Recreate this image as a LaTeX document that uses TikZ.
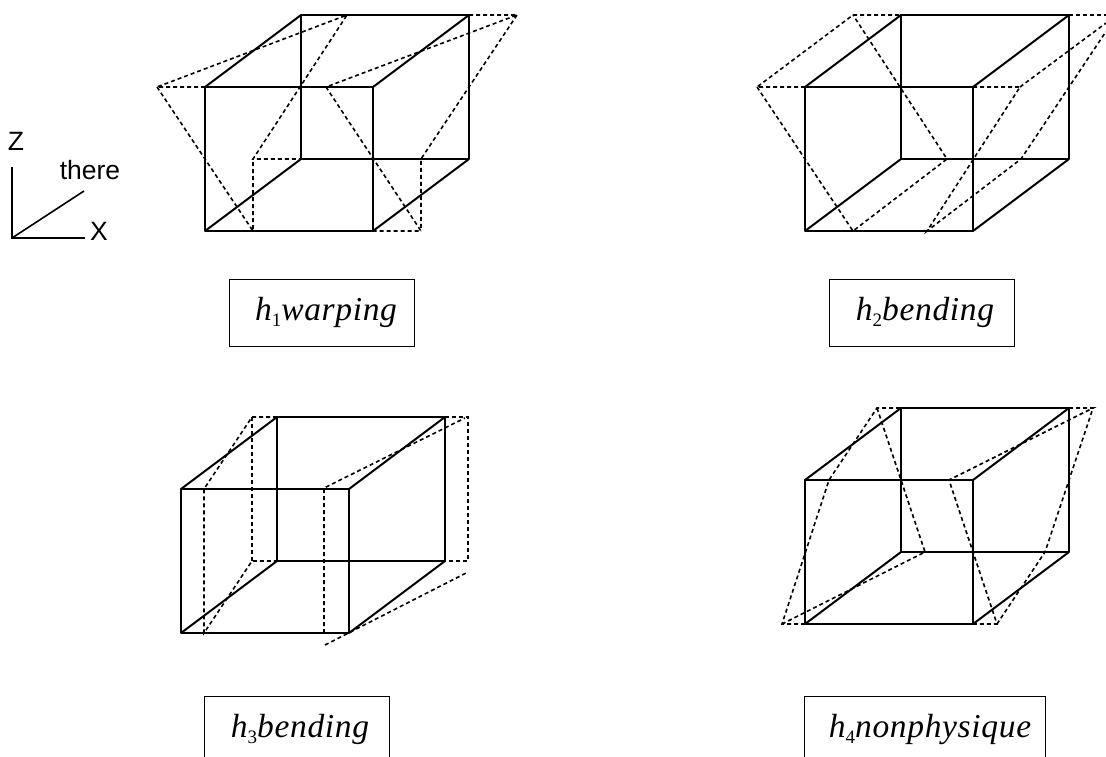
\documentclass[tikz,border=0pt]{standalone}
\usepackage{fontspec}
\setsansfont{Liberation Sans}
\newfontfamily\labelfont[LetterSpace=2]{Liberation Serif}
\newcommand{\hsub}[1]{\raisebox{-6.5pt}{\upshape\fontsize{19}{20}\selectfont #1}}

\begin{document}
\begin{tikzpicture}[x=1pt,y=-1pt,
  cubeline/.style={line width=2pt,line join=round},
  defline/.style={line width=1.6pt,dash pattern=on 4pt off 3pt},
  axisline/.style={line width=1.6pt},
  axislabel/.style={font=\sffamily\fontsize{26.5}{30}\selectfont,inner sep=0pt},
  modebox/.style={draw,line width=1pt,anchor=north west,inner sep=0pt,outer sep=0pt,
    minimum height=67pt,text height=20pt,text depth=5pt,
    font=\labelfont\itshape\fontsize{33.5}{36}\selectfont},
]
\useasboundingbox (0,0) rectangle (1106,756);

% axes
\coordinate (origin) at (12,238);
\coordinate (zend) at (12,167);
\coordinate (xend) at (85,238);
\coordinate (yend) at (84,191);
\draw[axisline] (zend) -- (origin) -- (xend);
\draw[axisline] (origin) -- (yend);
\node[axislabel] (zlabel) at (16,141) {Z};
\node[axislabel] (ylabel) at (90,170) {there};
\node[axislabel] (xlabel) at (99,231) {X};

% h1 cube
\draw[cubeline] (205,87) rectangle (373,231);
\draw[cubeline] (301,15) rectangle (469,159);
\draw[cubeline] (205,87) -- (301,15) (373,87) -- (469,15) (205,231) -- (301,159) (373,231) -- (469,159);

% h1 deformed shape
\draw[defline] (205,87) -- (157,87) -- (347,15) -- (253,159) -- (301,159);
\draw[defline] (157,87) -- (253,231) -- (253,159);
\draw[defline] (469,15) -- (517,15) -- (326,87) -- (421,231) -- (373,231);
\draw[defline] (517,15) -- (421,159) -- (421,231);

% h2 cube
\draw[cubeline] (805,87) rectangle (973,231);
\draw[cubeline] (901,15) rectangle (1069,159);
\draw[cubeline] (805,87) -- (901,15) (973,87) -- (1069,15) (805,231) -- (901,159) (973,231) -- (1069,159);

% h2 deformed shape
\draw[defline] (805,87) -- (757,87) -- (853,15) -- (901,15);
\draw[defline] (757,87) -- (853,231) -- (947,159) -- (853,15);
\draw[defline] (973,87) -- (1020,87) -- (927,231) -- (1021,159) -- (1106,31.5);
\draw[defline] (1020,87) -- (1106,23);
\draw[defline] (1069,15) -- (1106,15);

% h3 cube
\draw[cubeline] (181,489) rectangle (349,633);
\draw[cubeline] (277,417) rectangle (445,561);
\draw[cubeline] (181,489) -- (277,417) (349,489) -- (445,417) (181,633) -- (277,561) (349,633) -- (445,561);

% h3 deformed shape
\draw[defline] (277,417) -- (252,417) -- (204,489) -- (204,633) -- (252,561) -- (277,561);
\draw[defline] (252,417) -- (252,561);
\draw[defline] (324,633) -- (324,488) -- (465,418);
\draw[defline] (445,417) -- (468,417) -- (468,561) -- (445,561);
\draw[defline] (325,645) -- (468,572);

% h4 cube
\draw[cubeline] (805,480) rectangle (973,624);
\draw[cubeline] (901,408) rectangle (1069,552);
\draw[cubeline] (805,480) -- (901,408) (973,480) -- (1069,408) (805,624) -- (901,552) (973,624) -- (1069,552);

% h4 deformed shape
\draw[defline] (805,624) -- (782,624) -- (829,480) -- (877,408) -- (901,408);
\draw[defline] (877,408) -- (925,552) -- (782,624);
\draw[defline] (1069,408) -- (1093,408) -- (949,480) -- (997,624) -- (973,624);
\draw[defline] (997,624) -- (1045,552) -- (1093,408);

% mode labels
\node[modebox,minimum width=185pt] (hone) at (229,279) {\hspace{9pt}h\hsub{1}warping};
\node[modebox,minimum width=185pt] (htwo) at (829,279) {\hspace{7pt}h\hsub{2}bending};
\node[modebox,minimum width=185pt] (hthree) at (204,696) {\hspace{7pt}h\hsub{3}bending};
\node[modebox,minimum width=241pt] (hfour) at (804,696) {\hspace{11pt}h\hsub{4}nonphysique};

\end{tikzpicture}
\end{document}
